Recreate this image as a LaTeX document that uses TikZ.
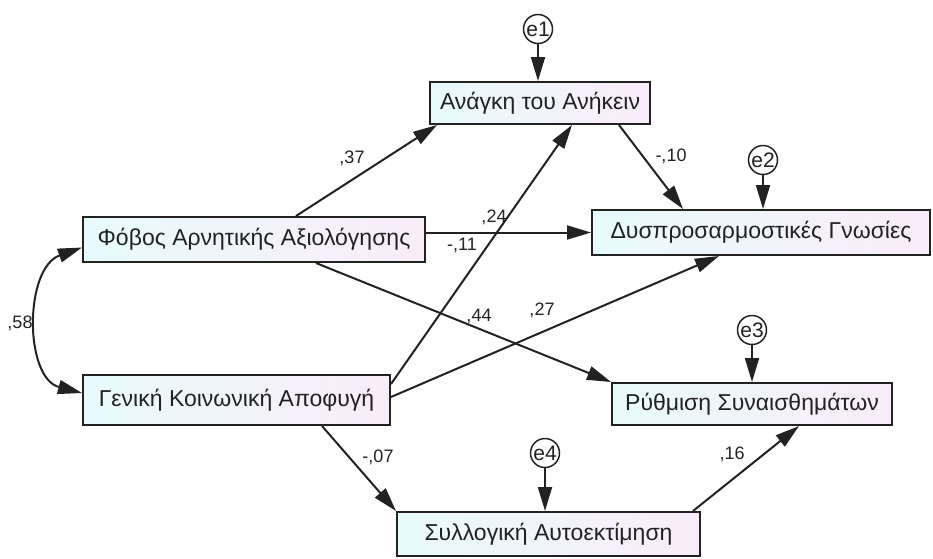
\documentclass[tikz,border=0pt]{standalone}
\usepackage{fontspec}
\setmainfont{Liberation Sans}
\usetikzlibrary{arrows.meta, calc}

\definecolor{boxleft}{RGB}{232,251,252}
\definecolor{boxright}{RGB}{250,236,250}
\definecolor{inkgray}{RGB}{34,34,34}

\tikzset{
  var/.style={draw=inkgray, line width=2pt, left color=boxleft, right color=boxright,
    inner sep=0pt, text=inkgray, font=\fontsize{23}{26}\selectfont},
  err/.style={circle, draw=inkgray, line width=1.5pt, fill=white, inner sep=0pt,
    minimum size=29pt, text=inkgray, font=\fontsize{21}{24}\selectfont},
  effect/.style={-{Triangle[length=24pt,width=14pt]}, line width=2pt, draw=inkgray},
  covar/.style={{Triangle[length=24pt,width=14pt]}-{Triangle[length=24pt,width=14pt]},
    line width=2pt, draw=inkgray},
  coef/.style={inner sep=0pt, text=inkgray, font=\fontsize{18}{20}\selectfont}
}

\begin{document}
\begin{tikzpicture}[x=1pt, y=-1pt]
\useasboundingbox (0,0) rectangle (933,558);

\node[var, minimum width=342pt, minimum height=45pt] (fobos) at (254,239.5) {Φόβος Αρνητικής Αξιολόγησης};
\node[var, minimum width=307pt, minimum height=50pt] (geniki) at (236.5,400) {Γενική Κοινωνική Αποφυγή};
\node[var, minimum width=220pt, minimum height=42pt] (anagki) at (540,103) {Ανάγκη του Ανήκειν};
\node[var, minimum width=338pt, minimum height=45pt] (dysp) at (761,232.5) {Δυσπροσαρμοστικές Γνωσίες};
\node[var, minimum width=280pt, minimum height=42pt] (rythm) at (752,404) {Ρύθμιση Συναισθημάτων};
\node[var, minimum width=303pt, minimum height=44pt] (syllog) at (548.5,534) {Συλλογική Αυτοεκτίμηση};

\node[err] (e1) at (538,29) {e1};
\node[err] (e2) at (763,160) {e2};
\node[err] (e3) at (752,330) {e3};
\node[err] (e4) at (545,453) {e4};

\draw[effect] (e1) -- (e1 |- anagki.north);
\draw[effect] (e2) -- (e2 |- dysp.north);
\draw[effect] (e3) -- (e3 |- rythm.north);
\draw[effect] (e4) -- (e4 |- syllog.north);

\draw[effect] ($(fobos.north west)+(214,0)$) -- ($(anagki.south west)+(8,0)$);
\draw[effect] (fobos.east |- dysp.west) -- (dysp.west);
\draw[effect] ($(fobos.south west)+(234,0)$) -- (rythm.north west);
\draw[effect] ($(geniki.north east)+(0,10)$) -- ($(anagki.south west)+(143,0)$);
\draw[effect] ($(geniki.east)+(0,-3)$) -- ($(dysp.south west)+(128,0)$);
\draw[effect] ($(geniki.south west)+(240,0)$) -- (syllog.north west);
\draw[effect] ($(anagki.south west)+(190,0)$) -- ($(dysp.north west)+(92,0)$);
\draw[effect] ($(syllog.north east)+(-8,0)$) -- ($(rythm.south west)+(188,0)$);
\draw[covar] ($(fobos.west)+(0,8)$) .. controls (24,268) and (24,378) .. ($(geniki.west)+(0,-7)$);

\node[coef] (c37) at (352,158) {,37};
\node[coef] (c10) at (671,156) {-,10};
\node[coef] (c24) at (494,217) {,24};
\node[coef] (c11) at (462,245) {-,11};
\node[coef] (c44) at (479,316) {,44};
\node[coef] (c27) at (542,310) {,27};
\node[coef] (c07) at (378,457) {-,07};
\node[coef] (c16) at (732,454) {,16};
\node[coef] (c58) at (20,323) {,58};
\end{tikzpicture}
\end{document}
